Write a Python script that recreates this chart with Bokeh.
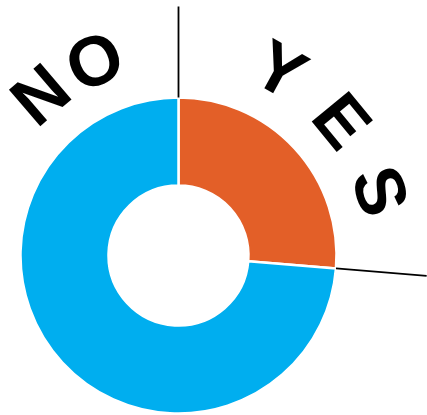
import numpy as np
from bokeh.plotting import figure
from bokeh.models import Range1d, ColumnDataSource
from bokeh.core.properties import value
from bokeh.embed import file_html
from bokeh.resources import INLINE

# ---- data ----
labels = ["YES", "NO"]
values = [26.3, 73.7]
colors = ["#E35F28", "#00AEEF"]

# ---- layout ----
W, H = 427, 415
cx, cy = 178, -255
r_in, r_out = 70, 158
r_line = 249
r_text = 212
label_center_deg = {"YES": 50.5, "NO": -32.0}   # clockwise from top
label_step_deg = {"YES": 21.8, "NO": 17.3}

p = figure(width=W, height=H, output_backend="svg", toolbar_location=None,
           x_range=Range1d(0, W), y_range=Range1d(-H, 0), min_border=0)
p.axis.visible = False
p.grid.visible = False
p.outline_line_color = None
p.background_fill_color = "white"

frac = np.array(values) / sum(values)
ends = np.pi / 2 - 2 * np.pi * np.cumsum(frac)
starts = np.concatenate([[np.pi / 2], ends[:-1]])
src = ColumnDataSource(dict(start=starts, end=ends, color=colors, label=labels))
p.annular_wedge(x=cx, y=cy, inner_radius=r_in, outer_radius=r_out,
                start_angle="start", end_angle="end", direction="clock",
                fill_color="color", line_color="white", line_width=2.5,
                source=src)

# boundary lines
b = starts
p.segment(x0=cx + r_out * np.cos(b), y0=cy + r_out * np.sin(b),
          x1=cx + r_line * np.cos(b), y1=cy + r_line * np.sin(b),
          line_color="black", line_width=1.8)

# curved letters
xs, ys, ts, angs = [], [], [], []
for lab in labels:
    n = len(lab)
    c = label_center_deg[lab]
    s = label_step_deg[lab]
    for i, ch in enumerate(lab):
        th = np.radians(c + (i - (n - 1) / 2) * s)
        xs.append(cx + r_text * np.sin(th))
        ys.append(cy + r_text * np.cos(th))
        ts.append(ch)
        angs.append(-th)
p.text(x=xs, y=ys, text=ts, angle=angs, text_align="center",
       text_baseline="middle", text_font=value("Liberation Sans"),
       text_font_style="bold", text_font_size="70px", text_color="black")

open("out.html", "w").write(file_html(p, INLINE))
